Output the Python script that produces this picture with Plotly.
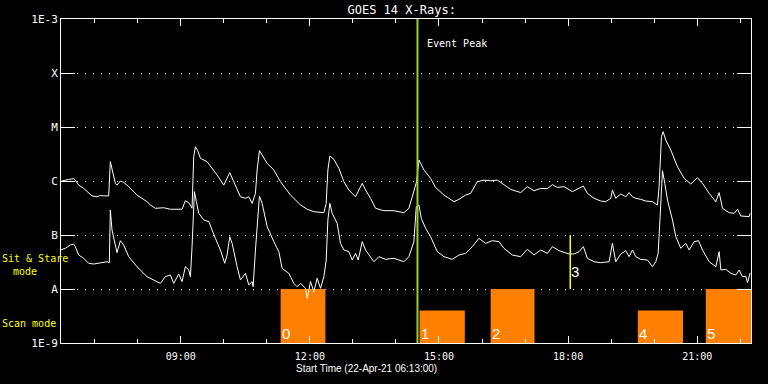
import numpy as np
import plotly.graph_objects as go

# ---------------- data ----------------
# GOES long channel (1-8 A), time in decimal hours of 22-Apr-2021, flux in W/m^2
long_t = [6.200, 6.239, 6.394, 6.510, 6.549, 6.627, 6.743, 6.937, 7.053, 7.131,
          7.208, 7.325, 7.363, 7.402, 7.479, 7.518, 7.596, 7.673, 7.790, 7.983,
          8.216, 8.293, 8.410, 8.603, 8.758, 9.030, 9.107, 9.185, 9.262, 9.301,
          9.340, 9.394, 9.456, 9.611, 9.728, 9.844, 9.999, 10.076, 10.138, 10.231,
          10.386, 10.503, 10.580, 10.658, 10.735, 10.774, 10.828, 10.890, 11.007, 11.162,
          11.317, 11.549, 11.782, 11.937, 12.092, 12.325, 12.379, 12.418, 12.464, 12.557,
          12.673, 12.790, 12.906, 13.061, 13.177, 13.216, 13.294, 13.410, 13.526, 13.720,
          13.952, 14.185, 14.301, 14.417, 14.479, 14.534, 14.650, 14.805, 14.921, 15.115,
          15.348, 15.464, 15.619, 15.735, 15.890, 16.045, 16.200, 16.355, 16.510, 16.665,
          16.898, 17.053, 17.208, 17.363, 17.518, 17.635, 17.751, 17.906, 18.100, 18.216,
          18.355, 18.448, 18.603, 18.758, 18.875, 18.991, 19.030, 19.107, 19.224, 19.340,
          19.417, 19.495, 19.573, 19.689, 19.805, 19.960, 20.076, 20.115, 20.169, 20.208,
          20.270, 20.386, 20.541, 20.696, 20.851, 21.006, 21.123, 21.278, 21.433, 21.510,
          21.588, 21.743, 21.859, 21.937, 22.014, 22.208, 22.231]
long_flux = [9.7e-7, 1.0e-6, 1.07e-6, 1.10e-6, 1.04e-6, 8.4e-7, 7.3e-7, 5.3e-7, 5.1e-7, 5.4e-7,
             5.3e-7, 5.3e-7, 2.28e-6, 1.6e-6, 9.05e-7, 8.4e-7, 1.0e-6, 9.45e-7, 7.85e-7, 5.5e-7,
             4.14e-7, 3.6e-7, 3.12e-7, 3.2e-7, 3.0e-7, 3.0e-7, 4.32e-7, 3.97e-7, 3.12e-7, 2.82e-6,
             4.32e-6, 3.65e-6, 2.63e-6, 2.28e-6, 1.72e-6, 1.29e-6, 8.4e-7, 1.12e-6, 1.43e-6, 9.7e-7,
             5.1e-7, 4.78e-7, 5.1e-7, 3.86e-7, 5.9e-7, 1.6e-6, 3.65e-6, 3.03e-6, 2.12e-6, 1.6e-6,
             9.7e-7, 5.5e-7, 3.6e-7, 3.0e-7, 2.7e-7, 2.59e-7, 3.86e-7, 1.6e-6, 2.9e-6, 2.52e-6,
             1.72e-6, 9.7e-7, 6.8e-7, 5.1e-7, 7.85e-7, 9.05e-7, 6.8e-7, 4.78e-7, 3.12e-7, 2.82e-7,
             2.82e-7, 2.59e-7, 3.12e-7, 6.35e-7, 9.7e-7, 2.45e-6, 1.6e-6, 1.12e-6, 7.6e-7, 5.5e-7,
             4.14e-7, 4.57e-7, 5.5e-7, 5.9e-7, 9.7e-7, 1.04e-6, 1.01e-6, 1.04e-6, 8.4e-7, 7.0e-7,
             6.1e-7, 7.85e-7, 6.6e-7, 7.3e-7, 7.2e-7, 8.55e-7, 7.6e-7, 7.85e-7, 6.35e-7, 7.0e-7,
             8.07e-7, 5.9e-7, 4.78e-7, 4.26e-7, 4.14e-7, 4.78e-7, 6.8e-7, 4.78e-7, 5.75e-7, 5.1e-7,
             6.1e-7, 5.1e-7, 4.78e-7, 4.57e-7, 4.26e-7, 4.14e-7, 3.6e-7, 7.85e-7, 6.62e-6, 8.2e-6,
             5.74e-6, 3.75e-6, 1.84e-6, 1.12e-6, 8.8e-7, 1.15e-6, 9.05e-7, 5.9e-7, 4.14e-7, 6.1e-7,
             3.12e-7, 2.59e-7, 2.52e-7, 3.0e-7, 2.25e-7, 2.19e-7, 2.52e-7]

# GOES short channel (0.5-4 A)
short_t = [6.200, 6.317, 6.433, 6.510, 6.549, 6.627, 6.743, 6.859, 6.976, 7.131,
           7.286, 7.340, 7.363, 7.402, 7.479, 7.518, 7.596, 7.673, 7.790, 7.983,
           8.216, 8.448, 8.526, 8.642, 8.758, 8.836, 8.952, 9.030, 9.107, 9.185,
           9.224, 9.262, 9.317, 9.363, 9.418, 9.534, 9.650, 9.805, 9.921, 10.022,
           10.076, 10.138, 10.193, 10.309, 10.386, 10.503, 10.580, 10.658, 10.681, 10.735,
           10.828, 10.890, 11.007, 11.162, 11.278, 11.355, 11.510, 11.627, 11.704, 11.782,
           11.898, 11.937, 12.014, 12.092, 12.169, 12.247, 12.325, 12.379, 12.418, 12.464,
           12.518, 12.634, 12.712, 12.790, 12.906, 12.983, 13.061, 13.123, 13.216, 13.294,
           13.371, 13.487, 13.603, 13.759, 13.952, 14.185, 14.301, 14.417, 14.472, 14.534,
           14.588, 14.689, 14.805, 14.960, 15.115, 15.309, 15.464, 15.619, 15.774, 15.929,
           16.084, 16.239, 16.394, 16.510, 16.704, 16.898, 17.053, 17.208, 17.363, 17.518,
           17.635, 17.790, 18.022, 18.138, 18.255, 18.355, 18.448, 18.603, 18.758, 18.952,
           19.030, 19.107, 19.224, 19.340, 19.417, 19.495, 19.573, 19.689, 19.844, 19.960,
           20.038, 20.092, 20.138, 20.193, 20.247, 20.309, 20.425, 20.503, 20.619, 20.735,
           20.812, 20.929, 21.030, 21.123, 21.278, 21.433, 21.510, 21.549, 21.665, 21.782,
           21.898, 21.975, 22.053, 22.130, 22.169, 22.231]
short_flux = [5.27e-8, 5.66e-8, 6.53e-8, 6.81e-8, 6.08e-8, 4.26e-8, 3.7e-8, 2.99e-8, 2.9e-8, 3.07e-8,
              3.2e-8, 3.07e-8, 2.9e-7, 1.24e-7, 6.53e-8, 4.71e-8, 7.85e-8, 6.53e-8, 3.97e-8, 2.59e-8,
              1.69e-8, 1.37e-8, 1.27e-8, 1.69e-8, 1.82e-8, 1.27e-8, 1.9e-8, 1.37e-8, 2.59e-8, 2.25e-8,
              1.69e-8, 6.08e-8, 6.35e-7, 4.14e-7, 2.52e-7, 1.9e-7, 1.77e-7, 8.67e-8, 5.27e-8, 2.99e-8,
              4.26e-8, 9.31e-8, 7.0e-8, 2.59e-8, 1.47e-8, 1.95e-8, 1.19e-8, 1.37e-8, 1.1e-8, 5.27e-8,
              5.27e-7, 3.86e-7, 1.43e-7, 7.53e-8, 4.91e-8, 2.41e-8, 1.95e-8, 1.27e-8, 1.1e-8, 1.27e-8,
              1.03e-8, 6.7e-9, 1.37e-8, 8.9e-9, 1.58e-8, 1.03e-8, 1.69e-8, 3.44e-8, 1.9e-7, 3.86e-7,
              2.52e-7, 1.64e-7, 7.0e-8, 5.27e-8, 4.91e-8, 3.44e-8, 4.57e-8, 3.44e-8, 7.53e-8, 5.27e-8,
              4.26e-8, 3.2e-8, 3.97e-8, 3.54e-8, 3.7e-8, 3.2e-8, 3.97e-8, 7.53e-8, 3.35e-7, 3.6e-7,
              2.04e-7, 1.33e-7, 9.31e-8, 4.91e-8, 3.97e-8, 3.54e-8, 4.26e-8, 4.57e-8, 6.08e-8, 8.67e-8,
              7.0e-8, 7.85e-8, 7.53e-8, 5.66e-8, 4.26e-8, 3.97e-8, 5.43e-8, 4.26e-8, 5.27e-8, 4.57e-8,
              6.08e-8, 5.13e-8, 4.45e-8, 4.45e-8, 4.91e-8, 6.08e-8, 3.7e-8, 3.2e-8, 3.07e-8, 3.2e-8,
              7.0e-8, 3.2e-8, 4.45e-8, 5.13e-8, 3.97e-8, 5.27e-8, 3.97e-8, 3.54e-8, 3.44e-8, 2.59e-8,
              3.2e-8, 4.57e-8, 2.19e-7, 1.55e-6, 9.05e-7, 4.45e-7, 1.9e-7, 9.31e-8, 5.66e-8, 7.0e-8,
              5.27e-8, 7.53e-8, 7.85e-8, 5.27e-8, 3.2e-8, 2.59e-8, 4.91e-8, 2.25e-8, 2.31e-8, 1.95e-8,
              1.82e-8, 2.25e-8, 1.69e-8, 1.72e-8, 1.31e-8, 1.98e-8]

# Scan-mode observation windows
scan_start = [11.32, 14.55, 16.20, 19.62, 21.20]
scan_end = [12.36, 15.60, 17.22, 20.67, 22.40]
scan_top = [1e-8, 4e-9, 1e-8, 4e-9, 1e-8]
scan_labels = ["0", "1", "2", "4", "5"]
scan_base = 1e-9

# Sit & stare observation
stare_time = 18.05
stare_low = 1e-8
stare_high = 1e-7
stare_label = "3"

# Event peak
peak_time = 14.50

y_tickvals = [1e-9, 1e-8, 1e-7, 1e-6, 1e-5, 1e-4, 1e-3]
y_ticktext = ["1E-9", "A", "B", "C", "M", "X", "1E-3"]
x_tickvals = [9, 12, 15, 18, 21]
x_ticktext = ["09:00", "12:00", "15:00", "18:00", "21:00"]
x_range = [6.2167, 22.25]

# ---------------- figure ----------------
ORANGE = "#ff8000"
MONO = "DejaVu Sans Mono"

fig = go.Figure()

for s, e, top in zip(scan_start, scan_end, scan_top):
    fig.add_trace(go.Scatter(
        x=[s, s, e, e, s], y=[scan_base, top, top, scan_base, scan_base],
        mode="lines", fill="toself", fillcolor=ORANGE,
        line=dict(width=0, color=ORANGE), hoverinfo="skip"))

fig.add_trace(go.Scatter(x=long_t, y=long_flux, mode="lines",
                         line=dict(color="white", width=1)))
fig.add_trace(go.Scatter(x=short_t, y=short_flux, mode="lines",
                         line=dict(color="white", width=1)))

fig.add_trace(go.Scatter(x=[stare_time, stare_time], y=[stare_low, stare_high],
                         mode="lines", line=dict(color="#ffff00", width=1.5)))
fig.add_trace(go.Scatter(x=[peak_time, peak_time], y=[1e-9, 1e-3],
                         mode="lines", line=dict(color="#9acd32", width=2)))

annotations = []
label_level = np.log10(1.5e-9)
for s, lab in zip(scan_start, scan_labels):
    annotations.append(dict(x=s, y=label_level, xref="x", yref="y", text=lab,
                            showarrow=False, xanchor="left", yanchor="middle",
                            xshift=-1, font=dict(family="Liberation Sans", size=15, color="white")))
annotations.append(dict(x=stare_time, y=np.log10(2.1e-8), xref="x", yref="y", text=stare_label,
                        showarrow=False, xanchor="left", yanchor="middle", xshift=-1,
                        font=dict(family="Liberation Sans", size=15, color="white")))
annotations.append(dict(x=peak_time, y=np.log10(3.55e-4), xref="x", yref="y", text="Event Peak",
                        showarrow=False, xanchor="left", yanchor="middle", xshift=8,
                        font=dict(family=MONO, size=10, color="white")))

W_PLOT = 690.0
H_PLOT = 324.0
def px_x(px):
    return (px - 60.7) / W_PLOT
def px_y(py):
    return (343 - py) / H_PLOT

annotations.append(dict(x=px_x(0), y=px_y(258.7), xref="paper", yref="paper",
                        text="Sit & Stare", showarrow=False, xanchor="left", yanchor="middle",
                        font=dict(family=MONO, size=10, color="#ffff00")))
annotations.append(dict(x=px_x(11), y=px_y(271), xref="paper", yref="paper",
                        text="mode", showarrow=False, xanchor="left", yanchor="middle",
                        font=dict(family=MONO, size=10, color="#ffff00")))
annotations.append(dict(x=px_x(0), y=px_y(323.3), xref="paper", yref="paper",
                        text="Scan mode", showarrow=False, xanchor="left", yanchor="middle",
                        font=dict(family=MONO, size=10, color="#ffff00")))
annotations.append(dict(x=px_x(365.8), y=px_y(368.5), xref="paper", yref="paper",
                        text="Start Time (22-Apr-21 06:13:00)", showarrow=False,
                        xanchor="center", yanchor="middle",
                        font=dict(family="Liberation Sans", size=10, color="white")))

fig.update_layout(
    width=768, height=384,
    margin=dict(l=61, r=17, t=19, b=41),
    paper_bgcolor="black", plot_bgcolor="black",
    showlegend=False,
    title=dict(text="GOES 14 X-Rays:", x=401.7 / 768, xref="container", xanchor="center",
               y=1 - 9.3 / 384, yref="container", yanchor="middle",
               font=dict(family=MONO, size=12, color="white")),
    annotations=annotations,
    xaxis=dict(range=x_range, tickvals=x_tickvals, ticktext=x_ticktext,
               ticks="inside", ticklen=7, tickwidth=1, tickcolor="white",
               showline=True, linecolor="white", linewidth=1, mirror="ticks",
               showgrid=False, zeroline=False, ticklabelstandoff=4,
               tickfont=dict(family=MONO, size=10, color="white"),
               minor=dict(dtick=1, tick0=0, ticks="inside", ticklen=4,
                          tickcolor="white", tickwidth=1, showgrid=False)),
    yaxis=dict(type="log", range=[-9, -3], tickvals=y_tickvals, ticktext=y_ticktext,
               ticks="inside", ticklen=14, tickwidth=1, tickcolor="white",
               showline=True, linecolor="white", linewidth=1, mirror="ticks",
               showgrid=True, gridcolor="white", gridwidth=1, griddash="1px,7px",
               zeroline=False,
               tickfont=dict(family=MONO, size=11, color="white")),
)

fig.write_html("out.html", config={"displayModeBar": False},
               post_script="document.body.style.margin='0';"
                           "document.body.style.background='black';")
